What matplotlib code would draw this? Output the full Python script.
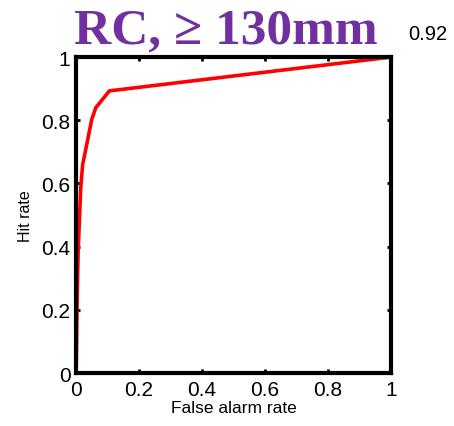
import matplotlib
matplotlib.use("Agg")
import matplotlib.pyplot as plt

# ROC curve points
false_alarm = [0.0, 0.001, 0.003, 0.007, 0.015, 0.021, 0.034, 0.050, 0.063, 0.106, 1.0]
hit_rate = [0.0, 0.03, 0.20, 0.39, 0.585, 0.659, 0.723, 0.803, 0.840, 0.893, 1.0]
ticks = [0, 0.2, 0.4, 0.6, 0.8, 1]
tick_labels = ["0", "0.2", "0.4", "0.6", "0.8", "1"]
title = "RC, \u2265 130mm"
score = "0.92"

plt.rcParams['font.family'] = ['Liberation Sans', 'DejaVu Sans']

fig = plt.figure(figsize=(4.54, 4.27), dpi=100)
ax = fig.add_axes([0.1674, 0.124, 0.694, 0.740])

ax.plot(false_alarm, hit_rate, color="#ff0000", lw=2.6, solid_joinstyle="round")

ax.set_xlim(0, 1)
ax.set_ylim(0, 1)
ax.set_xticks(ticks)
ax.set_xticklabels(tick_labels)
ax.set_yticks(ticks)
ax.set_yticklabels(tick_labels)
ax.tick_params(direction="in", length=3, width=2, labelsize=15,
               top=True, right=True)
ax.tick_params(axis="x", pad=5)
ax.tick_params(axis="y", pad=4)
for s in ax.spines.values():
    s.set_linewidth(3)

ax.set_xlabel("False alarm rate", fontsize=12.5, labelpad=1)
ax.set_ylabel("Hit rate", fontsize=11.5, labelpad=6)

fig.text(0.497, 0.897, title, color="#7030a0", fontsize=37, fontweight="bold",
         family="Liberation Serif", ha="center", va="baseline")
fig.text(0.899, 0.907, score, fontsize=14.5, ha="left", va="baseline")

fig.savefig("out.png", dpi=100)
